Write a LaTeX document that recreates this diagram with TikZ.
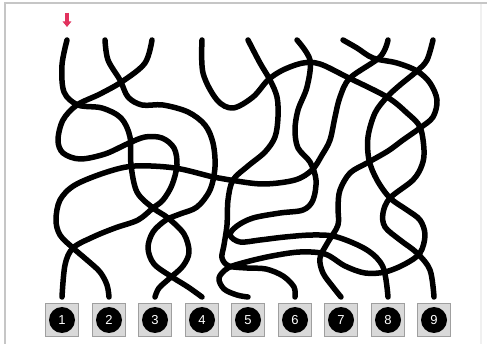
\documentclass[tikz,border=0pt]{standalone}
\usepackage{fontspec}
\setsansfont{Liberation Sans}
\usetikzlibrary{arrows.meta}
\definecolor{pinkred}{HTML}{E2325E}

\tikzset{
  strand/.style={line width=5.5pt, line cap=round, line join=round},
  numbox/.style={draw=gray!75, line width=1pt, fill=gray!30, minimum size=33pt, inner sep=0pt,
    font=\sffamily\fontsize{13}{13}\selectfont, text=white,
    path picture={\fill[black] (path picture bounding box.center) circle (13pt);}},
}

\begin{document}
\begin{tikzpicture}[x=1pt, y=-1pt]
  \useasboundingbox (0,0) rectangle (487,344);
  \fill[white] (0,0) rectangle (487,344);
  % frame
  \draw[gray!45, line width=2pt] (5,344) -- (5,3) -- (487,3);
  \draw[gray!12, line width=1.5pt] (481,4) -- (481,344);

  % numbered buttons
  \node[numbox] (b1) at (62,320) {1};
  \node[numbox] (b2) at (109,320) {2};
  \node[numbox] (b3) at (155,320) {3};
  \node[numbox] (b4) at (202,320) {4};
  \node[numbox] (b5) at (248,320) {5};
  \node[numbox] (b6) at (295,320) {6};
  \node[numbox] (b7) at (341,320) {7};
  \node[numbox] (b8) at (388,320) {8};
  \node[numbox] (b9) at (434,320) {9};

  % strand tops
  \coordinate (t1) at (67,40);
  \coordinate (t2) at (105,40);
  \coordinate (t3) at (152,40);
  \coordinate (t4) at (202,40);
  \coordinate (t5) at (248,40);
  \coordinate (t6) at (297,40);
  \coordinate (t7) at (343,40);
  \coordinate (t8) at (388,40);
  \coordinate (t9) at (433,40);

  % red marker
  \coordinate (mk) at (67,13);
  \draw[pinkred, line width=3.5pt, -{Triangle[width=8.5pt,length=5.5pt]}] (mk) -- (67,27);

  % strands
  \draw[strand] plot[smooth, tension=0.55] coordinates {(t1) (62,65) (64,92) (78,105) (102,108)
    (121,118) (130,137) (131,165) (137,192) (153,208) (168,218) (184,234) (189,252) (183,266)
    (170,278) (159,288) ([yshift=6pt]b3.north)};
  \draw[strand] plot[smooth, tension=0.55] coordinates {(t2) (108,60) (120,80) (128,97) (142,105)
    (163,105) (188,112) (205,125) (213,143) (215,167) (210,190) (197,207) (180,214) (166,220)
    (153,232) (148,248) (154,264) (172,277) (188,287) ([yshift=6pt]b4.north)};
  \draw[strand] plot[smooth, tension=0.55] coordinates {(t3) (145,63) (123,81) (100,94) (77,105)
    (63,120) (58,140) (63,153) (80,159) (105,154) (127,144) (145,137) (162,138) (174,148)
    (177,165) (172,185) (163,200) (153,208) (138,220) (115,228) (93,237) (73,248) (65,265)
    ([yshift=6pt]b1.north)};
  \draw[strand] plot[smooth, tension=0.55] coordinates {(t8) (380,57) (350,78) (340,97) (335,117)
    (330,140) (322,155) (312,170) (295,180) (263,184) (230,180) (213,177) (175,168) (135,166)
    (107,172) (75,185) (60,200) (56,220) (60,235) (73,248) (87,260) (100,272) (107,285)
    ([yshift=6pt]b2.north)};
  \draw[strand] plot[smooth, tension=0.55] coordinates {(t4) (203,73) (217,100) (233,108) (253,97)
    (268,80) (283,70) (303,63) (320,64) (347,77) (387,97) (407,113) (420,127) (424,150)
    (422,165) (413,180) (390,198) (383,213) (385,227) (400,240) (417,253) (430,270)
    ([yshift=6pt]b9.north)};
  \draw[strand] plot[smooth, tension=0.55] coordinates {(t7) (357,48) (373,58) (397,63) (417,71)
    (430,83) (437,100) (433,117) (420,128) (403,140) (388,151) (367,163) (350,173) (340,190)
    (338,207) (338,225) (328,242) (320,258) (323,273) (333,287) ([yshift=6pt]b7.north)};
  \draw[strand] plot[smooth, tension=0.55] coordinates {(t6) (310,60) (307,87) (298,110) (295,130)
    (298,148) (310,162) (316,180) (313,200) (303,210) (280,213) (253,218) (237,226) (230,235)
    (240,242) (260,240) (285,237) (313,235) (337,237) (367,250) (383,267) ([yshift=6pt]b8.north)};
  \draw[strand] plot[smooth, tension=0.55] coordinates {(t5) (260,63) (270,80) (277,97) (278,117)
    (275,137) (265,152) (248,166) (233,180) (228,200) (227,225) (224,245) (222,258) (229,266)
    (247,268) (266,269) (283,276) (294,287) ([yshift=6pt]b6.north)};
  \draw[strand] plot[smooth, tension=0.55] coordinates {(t9) (427,60) (417,71) (400,85) (387,97)
    (375,113) (368,137) (369,160) (377,180) (390,198) (407,210) (420,220) (425,235) (420,253)
    (405,264) (385,272) (365,273) (345,266) (325,254) (300,252) (272,256) (246,262) (228,268)
    (219,278) (224,289) (237,295) ([yshift=6pt]b5.north)};
\end{tikzpicture}
\end{document}
